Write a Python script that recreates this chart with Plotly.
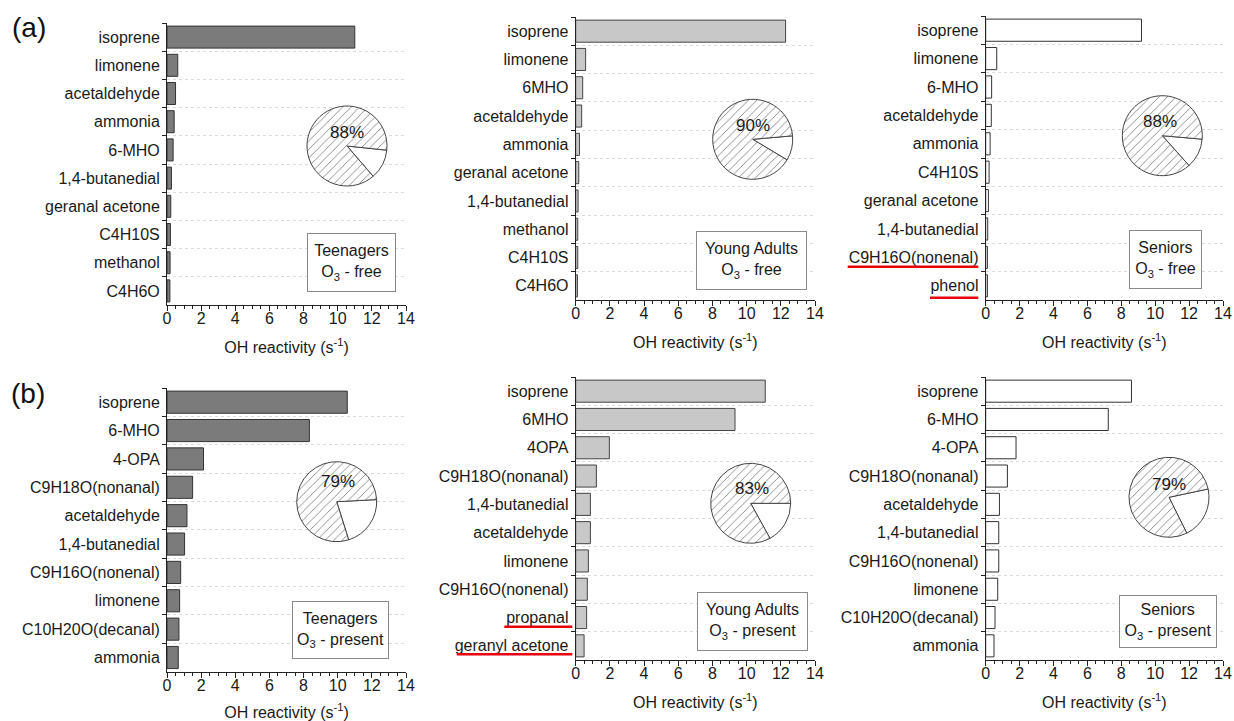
import plotly.graph_objects as go

W, H = 1234, 721

# ---------------- data ----------------
teen_free_labels = ["isoprene", "limonene", "acetaldehyde", "ammonia", "6-MHO",
                    "1,4-butanedial", "geranal acetone", "C4H10S", "methanol", "C4H6O"]
teen_free_vals = [11.0, 0.63, 0.50, 0.42, 0.36, 0.26, 0.22, 0.20, 0.18, 0.17]

young_free_labels = ["isoprene", "limonene", "6MHO", "acetaldehyde", "ammonia",
                     "geranal acetone", "1,4-butanedial", "methanol", "C4H10S", "C4H6O"]
young_free_vals = [12.28, 0.58, 0.41, 0.35, 0.22, 0.18, 0.14, 0.12, 0.12, 0.10]

senior_free_labels = ["isoprene", "limonene", "6-MHO", "acetaldehyde", "ammonia",
                      "C4H10S", "geranal acetone", "1,4-butanedial", "C9H16O(nonenal)", "phenol"]
senior_free_vals = [9.19, 0.65, 0.35, 0.33, 0.26, 0.20, 0.16, 0.12, 0.10, 0.10]

teen_o3_labels = ["isoprene", "6-MHO", "4-OPA", "C9H18O(nonanal)", "acetaldehyde",
                  "1,4-butanedial", "C9H16O(nonenal)", "limonene", "C10H20O(decanal)", "ammonia"]
teen_o3_vals = [10.56, 8.34, 2.14, 1.50, 1.17, 1.03, 0.80, 0.74, 0.70, 0.66]

young_o3_labels = ["isoprene", "6MHO", "4OPA", "C9H18O(nonanal)", "1,4-butanedial",
                   "acetaldehyde", "limonene", "C9H16O(nonenal)", "propanal", "geranyl acetone"]
young_o3_vals = [11.09, 9.32, 1.97, 1.21, 0.86, 0.86, 0.74, 0.68, 0.64, 0.49]

senior_o3_labels = ["isoprene", "6-MHO", "4-OPA", "C9H18O(nonanal)", "acetaldehyde",
                    "1,4-butanedial", "C9H16O(nonenal)", "limonene", "C10H20O(decanal)", "ammonia"]
senior_o3_vals = [8.60, 7.23, 1.79, 1.28, 0.81, 0.77, 0.77, 0.71, 0.55, 0.49]

# share of total OH reactivity covered by the listed top-10 compounds (%)
pie_shares = [88, 90, 88, 79, 83, 79]
panel_titles = ["Teenagers<br>O<sub>3</sub> - free", "Young Adults<br>O<sub>3</sub> - free",
                "Seniors<br>O<sub>3</sub> - free", "Teenagers<br>O<sub>3</sub> - present",
                "Young Adults<br>O<sub>3</sub> - present", "Seniors<br>O<sub>3</sub> - present"]
x_ticks = [0, 2, 4, 6, 8, 10, 12, 14]

# ---------------- layout geometry (pixels) ----------------
def px_x(p):
    return p / W

def px_y(p):
    return 1 - p / H

panels = [
    # (x0px, x14px, ytop, ybottom)
    (167, 406, 23, 305),
    (575.7, 815, 17, 300),
    (985.7, 1223, 16, 300),
    (167, 406, 388, 671.7),
    (575.7, 815, 377, 660),
    (985.7, 1223, 377, 660),
]
pie_centers = [(347, 146), (752.7, 139.3), (1162.3, 135.7),
               (336.7, 501.7), (750.7, 503.3), (1169, 497.3)]
pie_rot = [96, 85, 95, 87, 90, 78]
pct_pos = [(347, 132), (752.7, 125), (1160, 121.7), (338, 481.7), (751.7, 488.3), (1169, 484)]
boxes = [  # cx, cy, w, h
    (351.5, 262.5, 89, 59), (751.7, 260.5, 111, 59), (1165.4, 259.7, 73, 59),
    (340, 629.9, 97, 58), (752, 621.7, 111, 59), (1168.2, 621.8, 98, 53),
]

datasets = [
    (teen_free_labels, teen_free_vals),
    (young_free_labels, young_free_vals),
    (senior_free_labels, senior_free_vals),
    (teen_o3_labels, teen_o3_vals),
    (young_o3_labels, young_o3_vals),
    (senior_o3_labels, senior_o3_vals),
]
fills = ["#7b7b7b", "#c8c8c8", "#ffffff"] * 2
edges = ["#333333", "#444444", "#333333"] * 2

FONT = "Liberation Sans, Arial, sans-serif"
FS = 16
fig = go.Figure()
layout = dict(
    width=W, height=H, margin=dict(l=0, r=0, t=0, b=0, autoexpand=False),
    paper_bgcolor="white", plot_bgcolor="white",
    font=dict(family=FONT, size=FS, color="#1a1a1a"),
    showlegend=False, annotations=[], shapes=[],
)

for i, ((labels, vals), (x0, x1, yt, yb)) in enumerate(zip(datasets, panels)):
    n = i + 1
    xa = "x" if n == 1 else f"x{n}"
    ya = "y" if n == 1 else f"y{n}"
    fig.add_trace(go.Bar(
        x=vals, y=labels, orientation="h", xaxis=xa, yaxis=ya,
        width=0.78,
        marker=dict(color=fills[i], line=dict(color=edges[i], width=1)),
        hoverinfo="x+y",
    ))
    layout["xaxis" if n == 1 else f"xaxis{n}"] = dict(
        domain=[px_x(x0), px_x(x1)], anchor=ya, range=[0, 14], automargin=False,
        tickvals=x_ticks, ticks="outside", ticklen=5, tickcolor="#222",
        minor=dict(dtick=0.5, tick0=0, ticks="outside", ticklen=3, tickcolor="#222", showgrid=False),
        showline=True, linecolor="#222", linewidth=1, showgrid=False, zeroline=False,
        tickfont=dict(size=FS), ticklabelstandoff=-6,
        title=dict(text="OH reactivity (s<sup>-1</sup>)", font=dict(size=FS), standoff=15),
    )
    layout["yaxis" if n == 1 else f"yaxis{n}"] = dict(
        domain=[px_y(yb), px_y(yt)], anchor=xa, type="category", automargin=False,
        categoryorder="array", categoryarray=labels, autorange="reversed",
        tickson="boundaries", ticks="outside", ticklen=4, tickcolor="#222",
        showline=True, linecolor="#222", linewidth=1,
        showgrid=True, gridcolor="#dadada", griddash="dot", gridwidth=1,
        tickfont=dict(size=FS), ticklabelstandoff=3,
    )

    # pie inset
    cx, cy = pie_centers[i]
    r = 40
    share = pie_shares[i]
    fig.add_trace(go.Pie(
        values=[100 - share, share], sort=False, direction="clockwise",
        rotation=pie_rot[i], textinfo="none", hoverinfo="percent",
        domain=dict(x=[px_x(cx - r), px_x(cx + r)], y=[px_y(cy + r), px_y(cy - r)]),
        marker=dict(colors=["white", "white"], line=dict(color="#444", width=1),
                    pattern=dict(shape=["", "/"], fgcolor="#666", bgcolor="white",
                                 size=6, solidity=0.12)),
    ))
    px_, py_ = pct_pos[i]
    layout["annotations"].append(dict(
        x=px_x(px_), y=px_y(py_), xref="paper", yref="paper", showarrow=False,
        xanchor="center", yanchor="middle",
        text=f"{share}%", font=dict(size=17, color="#1a1a1a"),
        bgcolor="rgba(0,0,0,0)",
    ))
    bx, by, bw, bh = boxes[i]
    layout["annotations"].append(dict(
        x=px_x(bx), y=px_y(by), xref="paper", yref="paper", showarrow=False,
        xanchor="center", yanchor="middle",
        text=panel_titles[i], font=dict(size=FS, color="#1a1a1a"),
        width=bw - 2, height=bh - 2, align="center", valign="middle",
        bordercolor="#8a8a8a", borderwidth=1, borderpad=0, bgcolor="white",
    ))

# panel letters
for txt, (lx, ly) in [("(a)", (10, 28)), ("(b)", (9, 393))]:
    layout["annotations"].append(dict(
        x=px_x(lx), y=px_y(ly), xref="paper", yref="paper", xanchor="left", yanchor="middle",
        showarrow=False, text=txt, font=dict(size=28, color="#111"),
    ))

# red underlines
for (xa_, xb_, yy) in [(847.7, 978.3, 266.7), (930, 978.3, 297.7),
                       (504.3, 572.3, 626.7), (456.7, 572.3, 654.3)]:
    layout["shapes"].append(dict(
        type="line", xref="paper", yref="paper",
        x0=px_x(xa_), x1=px_x(xb_), y0=px_y(yy), y1=px_y(yy),
        line=dict(color="#e8000b", width=2.5),
    ))

fig.update_layout(**layout)
fig.write_html("out.html", config={"displayModeBar": False},
               post_script="document.body.style.margin='0';")
